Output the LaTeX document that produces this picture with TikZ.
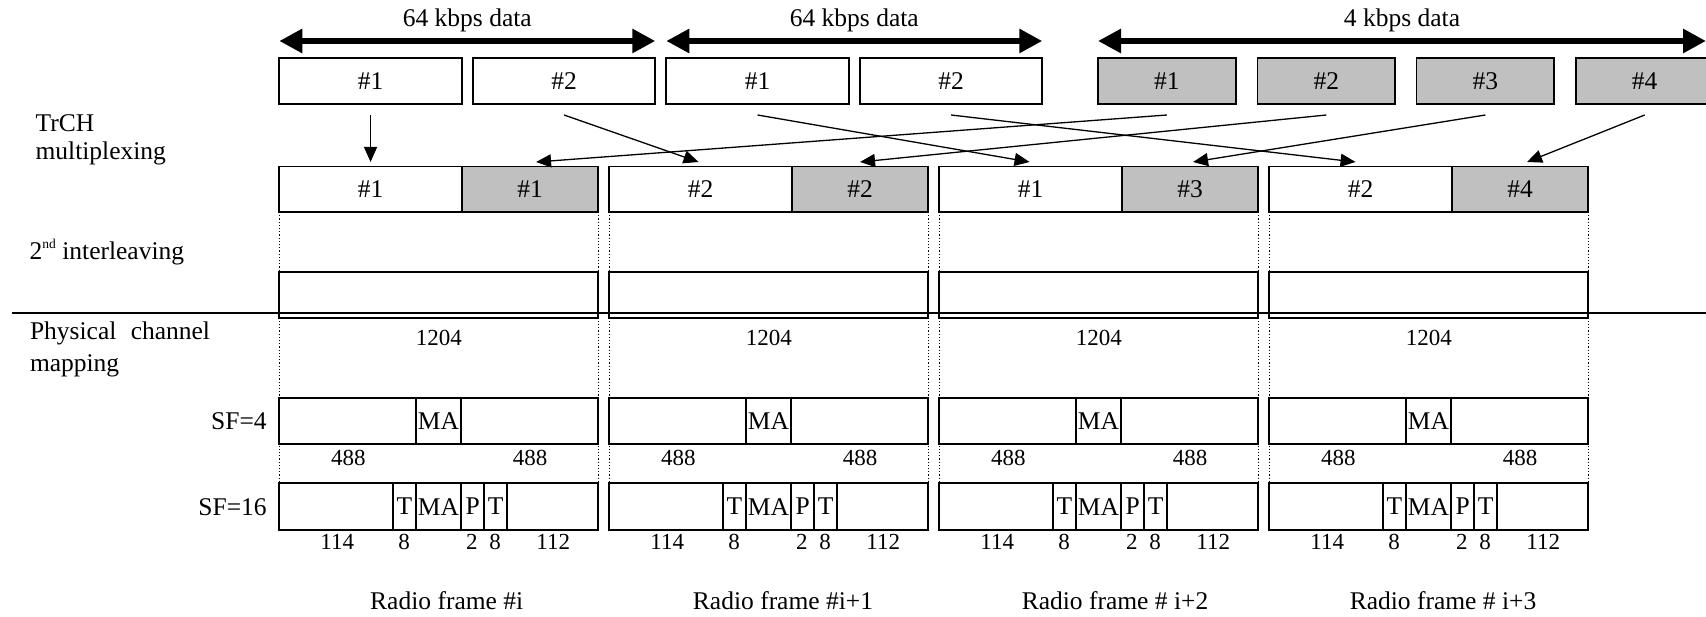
\documentclass[tikz,border=0pt]{standalone}
\usepackage{fontspec}
\setmainfont{Liberation Serif}
\usetikzlibrary{arrows.meta,calc}
\definecolor{boxgray}{RGB}{192,192,192}
\tikzset{
  every node/.style={font=\fontsize{25.5}{28}\selectfont, inner sep=0pt, outer sep=0pt},
  box/.style={draw, line width=1.8pt, anchor=north west},
  num/.style={font=\fontsize{23}{26}\selectfont, anchor=base},
  bigarrow/.style={line width=6.5pt, {Triangle[length=23pt,width=23pt]}-{Triangle[length=23pt,width=23pt]}},
  conn/.style={line width=1.3pt, -{Triangle[length=15pt,width=13pt]}},
  dotline/.style={line width=1.2pt, dotted},
}
\begin{document}
\begin{tikzpicture}[x=1pt,y=-1pt]
\useasboundingbox (0,0) rectangle (1706,617);
\clip (0,0) rectangle (1706,617);

% top row
\foreach \n/\x/\t in {t1/279.3/1, t2/472.8/2, t3/666.3/1, t4/859.8/2}
  \node[box, minimum width=182.5pt, minimum height=45.7pt] (\n) at (\x,58.3) {\#\t};
\foreach \n/\x/\t in {g1/1098/1, g2/1257.5/2, g3/1416.5/3, g4/1575.8/4}
  \node[box, fill=boxgray, minimum width=137.8pt, minimum height=45.7pt] (\n) at (\x,58.3) {\#\t};

% rate arrows
\coordinate (e3) at (1706,41);
\draw[bigarrow] ($(t1.north west)+(0,-17.3)$) -- ($(t2.north east)+(0,-17.3)$)
  node[midway, anchor=base, yshift=14.3pt] (lab1) {64 kbps data};
\draw[bigarrow] ($(t3.north west)+(0,-17.3)$) -- ($(t4.north east)+(0,-17.3)$)
  node[midway, anchor=base, yshift=14.3pt] (lab2) {64 kbps data};
\draw[bigarrow] ($(g1.north west)+(0,-17.3)$) -- (e3)
  node[midway, anchor=base, yshift=14.3pt] (lab3) {4 kbps data};

% frames
\foreach \i/\wl/\gl in {0/1/1,1/2/2,2/1/3,3/2/4} {
  \pgfmathsetmacro\L{279.3+330*\i}
  \node[box, minimum width=182.5pt, minimum height=45.5pt] (mw\i) at (\L,166.5) {\#\wl};
  \node[box, fill=boxgray, minimum width=136.5pt, minimum height=45.5pt] (mg\i) at (\L+182.5,166.5) {\#\gl};
  \node[box, minimum width=319pt, minimum height=46pt] (il\i) at (\L,272) {};
  \node[num] (nb\i) at (\L+159.5,345.7) {1204};
  \node[box, minimum width=319pt, minimum height=46.6pt] (sa\i) at (\L,397.7) {};
  \node[box, minimum width=45.6pt, minimum height=46.6pt] (sama\i) at (\L+136.4,397.7) {MA};
  \node[num] (na\i) at (\L+69,465.7) {488};
  \node[num] (nc\i) at (\L+250.7,465.7) {488};
  \node[box, minimum width=319pt, minimum height=46.7pt] (sb\i) at (\L,483.3) {};
  \node[box, minimum width=22.4pt, minimum height=46.7pt] (sbt\i) at (\L+114,483.3) {T};
  \node[box, minimum width=45.6pt, minimum height=46.7pt] (sbm\i) at (\L+136.4,483.3) {MA};
  \node[box, minimum width=23pt, minimum height=46.7pt] (sbp\i) at (\L+182,483.3) {P};
  \node[box, minimum width=22.7pt, minimum height=46.7pt] (sbu\i) at (\L+205,483.3) {T};
  \node[num] (q1\i) at (\L+58,549.3) {114};
  \node[num] (q2\i) at (\L+124.7,549.3) {8};
  \node[num] (q3\i) at (\L+192.5,549.3) {2};
  \node[num] (q4\i) at (\L+215.8,549.3) {8};
  \node[num] (q5\i) at (\L+274,549.3) {112};
  \draw[dotline] (mw\i.south west) -- (sb\i.north west);
  \draw[dotline] (mg\i.south east) -- (sb\i.north east);
}

% radio frame labels
\node[anchor=base] (rf0) at (446.7,609.3) {Radio frame \#i};
\node[anchor=base] (rf1) at (783,609.3) {Radio frame \#i+1};
\node[anchor=base] (rf2) at (1115,609.3) {Radio frame \# i+2};
\node[anchor=base] (rf3) at (1443,609.3) {Radio frame \# i+3};

% left labels
\node[anchor=base west] (trch) at (35.6,131.7) {TrCH};
\node[anchor=base west] (muxl) at (35.6,160) {multiplexing};
\node[anchor=base west] (ill) at (29.7,259.3) {2\raisebox{0.42em}{\fontsize{13.5}{14}\selectfont nd} interleaving};
\node[anchor=base west] (pcm1) at (30,339.3) {Physical\hspace{8pt} channel};
\node[anchor=base west] (pcm2) at (30,371.7) {mapping};
\node[anchor=base east] (sf4) at (266.7,429.3) {SF=4};
\node[anchor=base east] (sf16) at (266.7,515) {SF=16};

% separator line
\coordinate (hl0) at (12,313.3);
\coordinate (hl1) at (1706,313.3);
\draw[line width=2.2pt] (hl0) -- (hl1);

% multiplexing connectors
\foreach \s/\d/\dx in {t1/mw0/0, t2/mw1/-2, t3/mw2/-1, t4/mw3/-5, g1/mg0/6, g2/mg1/0, g3/mg2/3, g4/mg3/7}
  \draw[conn] ($(\s.south)+(0,11)$) -- ($(\d.north)+(\dx,-4.5)$);
\end{tikzpicture}
\end{document}
